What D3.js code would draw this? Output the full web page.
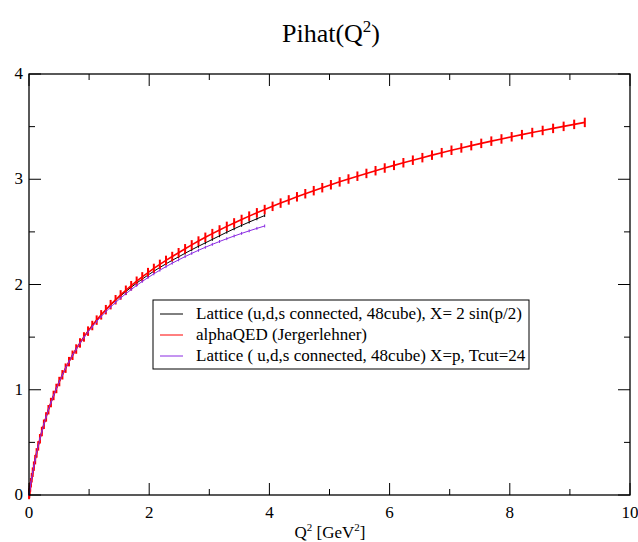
<!DOCTYPE html>
<html><head><meta charset="utf-8">
<script src="https://cdn.jsdelivr.net/npm/d3@7"></script>
<style>
body{margin:0;background:#fff}
svg{display:block}
text{font-family:"Liberation Serif","Times New Roman",serif;fill:#000}
</style>
</head><body>
<svg id="chart" width="638" height="542"></svg>
<script>
// Q^2 values (GeV^2) of the data points
const q2 = [0, .0013, .0050, .0114, .0203, .0317, .0456, .0621, .0811, .1026, .1266, .1532, .1822, .2138, .2478, .2844, .3234, .3649, .4089, .4553, .5043, .5556, .6094, .6655, .7242, .7852, .8485, .9144, .9825, 1.0530, 1.1259, 1.2011, 1.2786, 1.3583, 1.4404, 1.5247, 1.6114, 1.7002, 1.7912, 1.8845, 1.9799, 2.0775, 2.1773, 2.2792, 2.3832, 2.4893, 2.5975, 2.7076, 2.8199, 2.9342, 3.0503, 3.1705, 3.2910, 3.4132, 3.5374, 3.6635, 3.7916, 3.9214, 4.0529, 4.1865, 4.3217, 4.4587, 4.5972, 4.7377, 4.8797, 5.0234, 5.1688, 5.3158, 5.4642, 5.6143, 5.7659, 5.9188, 6.0734, 6.2294, 6.3867, 6.5455, 6.7055, 6.8669, 7.0295, 7.1935, 7.3587, 7.5250, 7.6925, 7.8613, 8.0310, 8.2019, 8.3738, 8.5468, 8.7206, 8.8956, 9.0713, 9.2480];

// alphaQED (Jegerlehner)
const alphaQED = [0, .0051, .0193, .0435, .0762, .1165, .1636, .2166, .2743, .3357, .3999, .4665, .5343, .6032, .6722, .7415, .8102, .8784, .9458, 1.0123, 1.0778, 1.1420, 1.2052, 1.2669, 1.3276, 1.3868, 1.4447, 1.5016, 1.5570, 1.6102, 1.6616, 1.7117, 1.7607, 1.8084, 1.8551, 1.9008, 1.9451, 1.9886, 2.0310, 2.0725, 2.1129, 2.1525, 2.1910, 2.2289, 2.2658, 2.3017, 2.3394, 2.3764, 2.4128, 2.4484, 2.4834, 2.5183, 2.5521, 2.5852, 2.6178, 2.6497, 2.6811, 2.7120, 2.7427, 2.7734, 2.8036, 2.8333, 2.8625, 2.8914, 2.9198, 2.9476, 2.9752, 3.0023, 3.0290, 3.0553, 3.0812, 3.1068, 3.1320, 3.1567, 3.1811, 3.2052, 3.2290, 3.2524, 3.2755, 3.2976, 3.3193, 3.3409, 3.3621, 3.3829, 3.4035, 3.4238, 3.4439, 3.4636, 3.4832, 3.5024, 3.5214, 3.5401];
const alphaQEDErr = 0.045;

// Lattice, X = 2 sin(p/2)
const latticeSin = [0, .0051, .0193, .0435, .0762, .1165, .1636, .2166, .2743, .3357, .3999, .4665, .5343, .6032, .6722, .7415, .8102, .8784, .9458, 1.0123, 1.0778, 1.1420, 1.2052, 1.2669, 1.3276, 1.3868, 1.4447, 1.5016, 1.5570, 1.6102, 1.6616, 1.7117, 1.7583, 1.8037, 1.8479, 1.8911, 1.9328, 1.9736, 2.0133, 2.0520, 2.0895, 2.1262, 2.1617, 2.1964, 2.2301, 2.2627, 2.2970, 2.3305, 2.3634, 2.3955, 2.4283, 2.4629, 2.4965, 2.5293, 2.5616, 2.5932, 2.6244, 2.6550];

// Lattice, X = p, Tcut = 24
const latticeP = [0, .0051, .0193, .0435, .0762, .1165, .1636, .2166, .2743, .3357, .3999, .4665, .5343, .6032, .6722, .7415, .8102, .8784, .9458, 1.0123, 1.0778, 1.1420, 1.2052, 1.2669, 1.3276, 1.3868, 1.4428, 1.4970, 1.5497, 1.6001, 1.6486, 1.6957, 1.7416, 1.7861, 1.8295, 1.8718, 1.9126, 1.9526, 1.9914, 2.0291, 2.0657, 2.1014, 2.1359, 2.1697, 2.2025, 2.2341, 2.2654, 2.2955, 2.3250, 2.3535, 2.3813, 2.4087, 2.4351, 2.4606, 2.4855, 2.5096, 2.5331, 2.5559];
const latticeErr = 0.014;

const xTicks = [0, 2, 4, 6, 8, 10];
const yTicks = [0, 1, 2, 3, 4];
const legendLabels = [
  "Lattice (u,d,s connected, 48cube), X= 2 sin(p/2)",
  "alphaQED (Jergerlehner)",
  "Lattice ( u,d,s connected, 48cube) X=p, Tcut=24"
];
const colors = ["#000000", "#ff0000", "#8a2be2"];

const svg = d3.select("#chart");
const L = 29, R = 630, T = 74, B = 495;
const x = d3.scaleLinear().domain([0, 10]).range([L, R]);
const y = d3.scaleLinear().domain([0, 4]).range([B, T]);

// Title
const title = svg.append("text").attr("x", 331).attr("y", 42).attr("text-anchor", "middle").style("font-size", "26px");
title.append("tspan").text("Pihat(Q");
title.append("tspan").attr("dy", -10).style("font-size", "17px").text("2");
title.append("tspan").attr("dy", 10).text(")");

// Series
const line = d3.line().x(d => x(d[0])).y(d => y(d[1]));
function drawSeries(vals, color, width, err, barW) {
  const pts = vals.map((v, i) => [q2[i], v]);
  const g = svg.append("g");
  g.append("path").datum(pts).attr("d", line).attr("fill", "none")
    .attr("stroke", color).attr("stroke-width", width);
  g.selectAll("line").data(pts.slice(1)).join("line")
    .attr("x1", d => x(d[0])).attr("x2", d => x(d[0]))
    .attr("y1", d => y(d[1] - err)).attr("y2", d => y(d[1] + err))
    .attr("stroke", color).attr("stroke-width", barW);
}
drawSeries(latticeSin, colors[0], 1, latticeErr, 1);
drawSeries(alphaQED, colors[1], 1.6, alphaQEDErr, 2);
drawSeries(latticeP, colors[2], 1, latticeErr, 1);

// Axes (ticks inward, mirrored)
const xMinor = d3.range(0, 10.01, 1), yMinor = d3.range(0, 4.01, 0.5);
const axG = svg.append("g").attr("stroke", "#000").attr("stroke-width", 1);
xMinor.forEach(v => {
  const len = (v % 2 === 0) ? 12 : 6;
  axG.append("line").attr("x1", x(v)).attr("x2", x(v)).attr("y1", B).attr("y2", B - len);
  axG.append("line").attr("x1", x(v)).attr("x2", x(v)).attr("y1", T).attr("y2", T + len);
});
yMinor.forEach(v => {
  const len = (v % 1 === 0) ? 12 : 6;
  axG.append("line").attr("y1", y(v)).attr("y2", y(v)).attr("x1", L).attr("x2", L + len);
  axG.append("line").attr("y1", y(v)).attr("y2", y(v)).attr("x1", R).attr("x2", R - len);
});
svg.append("rect").attr("x", L).attr("y", T).attr("width", R - L).attr("height", B - T)
  .attr("fill", "none").attr("stroke", "#000").attr("stroke-width", 1.3);

// Tick labels
svg.append("g").selectAll("text").data(xTicks).join("text")
  .attr("x", d => x(d)).attr("y", 518).attr("text-anchor", "middle")
  .style("font-size", "17px").text(d => d);
svg.append("g").selectAll("text").data(yTicks).join("text")
  .attr("x", 23).attr("y", d => y(d) + 5).attr("text-anchor", "end")
  .style("font-size", "17px").text(d => d);

// X axis label
const xl = svg.append("text").attr("x", 330).attr("y", 538).attr("text-anchor", "middle").style("font-size", "17px");
xl.append("tspan").text("Q");
xl.append("tspan").attr("dy", -7).style("font-size", "11px").text("2");
xl.append("tspan").attr("dy", 7).text(" [GeV");
xl.append("tspan").attr("dy", -7).style("font-size", "11px").text("2");
xl.append("tspan").attr("dy", 7).text("]");

// Legend
const lg = svg.append("g");
lg.append("rect").attr("x", 153).attr("y", 300).attr("width", 376).attr("height", 69)
  .attr("fill", "#fff").attr("stroke", "#000").attr("stroke-width", 1);
legendLabels.forEach((t, i) => {
  const yy = 314 + i * 21;
  lg.append("line").attr("x1", 160).attr("x2", 183).attr("y1", yy).attr("y2", yy)
    .attr("stroke", colors[i]).attr("stroke-width", 1);
  lg.append("text").attr("x", 196).attr("y", yy + 5).style("font-size", "17px").text(t);
});
</script>
</body></html>
